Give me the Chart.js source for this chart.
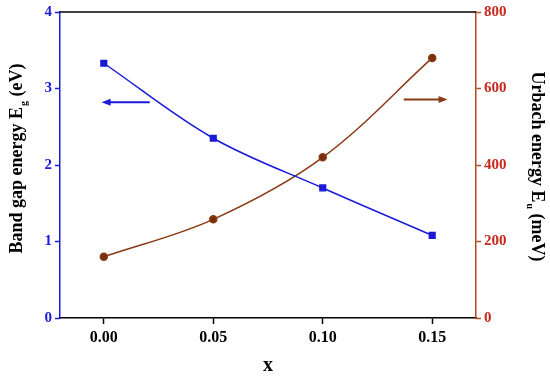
<!DOCTYPE html>
<html>
<head>
<meta charset="utf-8">
<script src="https://cdn.jsdelivr.net/npm/chart.js@4.4.0/dist/chart.umd.min.js"></script>
<style>
  html, body { margin: 0; padding: 0; background: #fff; }
  #wrap { width: 550px; height: 380px; }
</style>
</head>
<body>
<div id="wrap"><canvas id="c"></canvas></div>
<script>
// values
const xValues = [0.00, 0.05, 0.10, 0.15]
const bandGap = [3.33, 2.35, 1.70, 1.08]      // eV, left axis
const urbach = [160, 258, 420, 680]            // meV, right axis
const xTicks = [0, 0.05, 0.10, 0.15]

// arrows pointing to each series' axis: [x from, x to, y]
const gapArrow = [0.021, -0.001, 2.82]
const urbachArrow = [0.137, 0.157, 571]

const BLUE = '#1a1ad8'
const BROWN = '#8a3a14'
const SERIF = '"Liberation Serif", "DejaVu Serif", serif'

function drawArrow(ctx, x1, x2, y, color) {
  const dir = Math.sign(x2 - x1)
  ctx.save()
  ctx.strokeStyle = color
  ctx.fillStyle = color
  ctx.lineWidth = 2
  ctx.beginPath()
  ctx.moveTo(x1, y)
  ctx.lineTo(x2 - dir * 6, y)
  ctx.stroke()
  ctx.beginPath()
  ctx.moveTo(x2, y)
  ctx.lineTo(x2 - dir * 9, y - 3.5)
  ctx.lineTo(x2 - dir * 9, y + 3.5)
  ctx.closePath()
  ctx.fill()
  ctx.restore()
}

// rotated title with a subscript part
function drawSubTitle(ctx, cx, cy, angle, main, sub, tail) {
  ctx.save()
  ctx.translate(cx, cy)
  ctx.rotate(angle)
  ctx.fillStyle = '#000'
  ctx.textBaseline = 'middle'
  const big = 'bold 18px ' + SERIF
  const small = 'bold 10px ' + SERIF
  ctx.font = big
  const w1 = ctx.measureText(main).width
  const w3 = ctx.measureText(tail).width
  ctx.font = small
  const w2 = ctx.measureText(sub).width
  let x = -(w1 + w2 + w3) / 2
  ctx.font = big
  ctx.fillText(main, x, 0)
  x += w1
  ctx.font = small
  ctx.fillText(sub, x + 1, 7)
  x += w2 + 1
  ctx.font = big
  ctx.fillText(tail, x, 0)
  ctx.restore()
}

const extras = {
  id: 'extras',
  afterDatasetsDraw(chart) {
    const { ctx, chartArea: a, scales } = chart
    // top frame line
    ctx.save()
    ctx.strokeStyle = '#000'
    ctx.lineWidth = 1.5
    ctx.beginPath()
    ctx.moveTo(a.left, a.top)
    ctx.lineTo(a.right, a.top)
    ctx.stroke()
    ctx.restore()

    drawArrow(ctx, scales.x.getPixelForValue(gapArrow[0]), scales.x.getPixelForValue(gapArrow[1]),
      scales.y.getPixelForValue(gapArrow[2]), BLUE)
    drawArrow(ctx, scales.x.getPixelForValue(urbachArrow[0]), scales.x.getPixelForValue(urbachArrow[1]),
      scales.y2.getPixelForValue(urbachArrow[2]), BROWN)

    drawSubTitle(ctx, 17, 159, -Math.PI / 2, 'Band gap energy E', 'g', ' (eV)')
    drawSubTitle(ctx, 537, 166, Math.PI / 2, 'Urbach energy E', 'u', ' (meV)')

    ctx.save()
    ctx.fillStyle = '#000'
    ctx.font = 'bold 20px ' + SERIF
    ctx.textAlign = 'center'
    ctx.textBaseline = 'middle'
    ctx.fillText('x', (a.left + a.right) / 2, 366)
    ctx.restore()
  }
}

new Chart(document.getElementById('c'), {
  type: 'line',
  data: {
    datasets: [
      {
        label: 'Band gap',
        data: xValues.map((x, i) => ({ x: x, y: bandGap[i] })),
        yAxisID: 'y',
        borderColor: BLUE,
        backgroundColor: BLUE,
        borderWidth: 1.5,
        pointStyle: 'rect',
        pointRadius: 4,
        tension: 0.35
      },
      {
        label: 'Urbach',
        data: xValues.map((x, i) => ({ x: x, y: urbach[i] })),
        yAxisID: 'y2',
        borderColor: BROWN,
        backgroundColor: '#7a2e0e',
        borderWidth: 1.5,
        pointStyle: 'circle',
        pointRadius: 3.5,
        tension: 0.35
      }
    ]
  },
  options: {
    responsive: true,
    maintainAspectRatio: false,
    animation: false,
    layout: { padding: { top: 10, left: 0, right: 0, bottom: 0 } },
    plugins: { legend: { display: false }, tooltip: { enabled: false } },
    scales: {
      x: {
        type: 'linear',
        min: -0.02,
        max: 0.17,
        afterBuildTicks: s => { s.ticks = xTicks.map(v => ({ value: v })) },
        afterFit: s => { s.height = 62 },
        border: { color: '#000', width: 1.5 },
        grid: { drawOnChartArea: false, tickLength: 6, color: '#000', tickWidth: 1.5 },
        ticks: {
          color: '#000',
          font: { family: SERIF, size: 16, weight: 'bold' },
          padding: 4,
          callback: v => v.toFixed(2)
        }
      },
      y: {
        position: 'left',
        min: 0,
        max: 4,
        afterFit: s => { s.width = 60 },
        border: { color: BLUE, width: 1.5 },
        grid: { drawOnChartArea: false, tickLength: 5, color: BLUE, tickWidth: 1.5 },
        ticks: {
          stepSize: 1,
          color: BLUE,
          font: { family: SERIF, size: 15, weight: 'bold' },
          padding: 3
        }
      },
      y2: {
        position: 'right',
        min: 0,
        max: 800,
        afterFit: s => { s.width = 74 },
        border: { color: '#b04a20', width: 1.5 },
        grid: { drawOnChartArea: false, tickLength: 5, color: '#b04a20', tickWidth: 1.5 },
        ticks: {
          stepSize: 200,
          color: '#c8281e',
          font: { family: SERIF, size: 15, weight: 'bold' },
          padding: 3
        }
      }
    }
  },
  plugins: [extras]
})
</script>
</body>
</html>
